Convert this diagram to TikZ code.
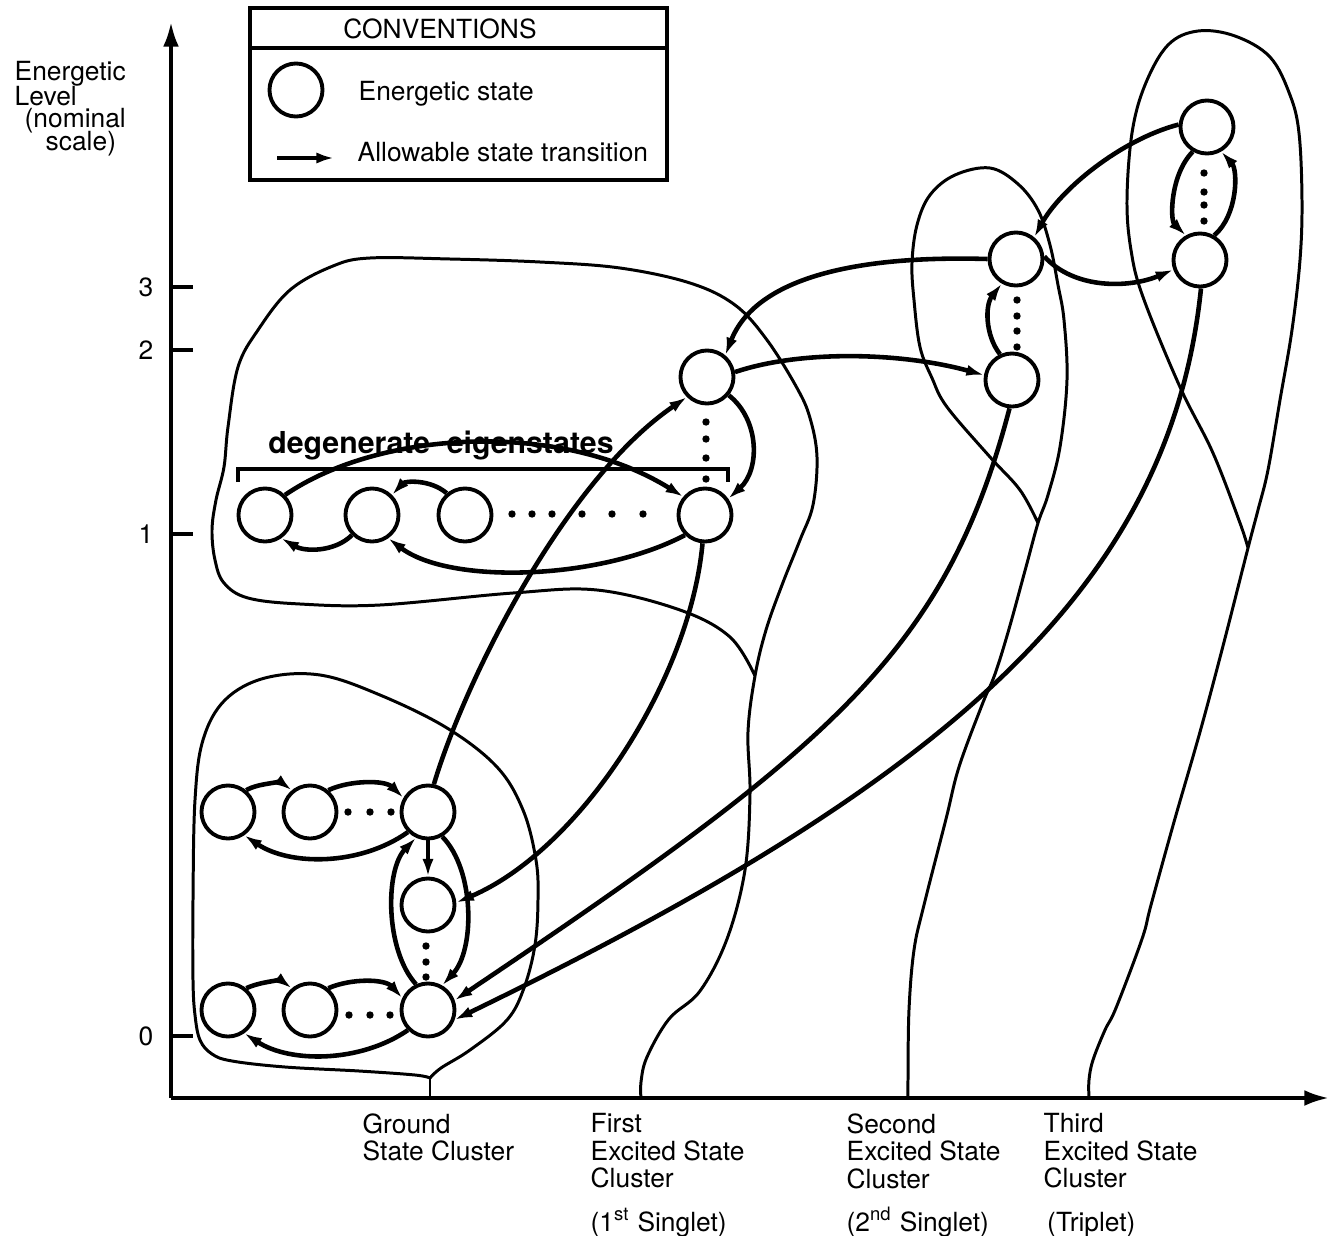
\documentclass[tikz,border=0pt]{standalone}
\usepackage{fontspec}
\setmainfont{TeX Gyre Heros}
\usetikzlibrary{arrows.meta}
\begin{document}
\begin{tikzpicture}[x=0.01cm,y=-0.01cm,
  state/.style={circle,draw,line width=1.1pt,minimum size=0.53cm,inner sep=0pt},
  trans/.style={line width=1.3pt,-{Latex[length=5pt,width=3.2pt]}},
  outline/.style={line width=0.85pt},
  axis/.style={line width=1.1pt,-{Latex[length=7pt,width=4.5pt]}},
  lbl/.style={font=\fontsize{7.5}{7.8}\selectfont,inner sep=0pt},
]
\useasboundingbox (0,0) rectangle (1329,1236);

% ---------- axes ----------
\coordinate (O) at (171,1098);
\coordinate (Ytop) at (171,22);
\coordinate (Xend) at (1329,1098);
\draw[axis] (O) -- (Ytop);
\draw[axis] (O) -- (Xend);
\foreach \yy/\tt in {287/3,350/2,534/1,1036/0}{
  \draw[line width=1.1pt] (171,\yy) -- (193,\yy);
  \node[lbl] (tick\tt) at (146,\yy) {\tt};
}
\node[lbl,anchor=base west] (ylab1) at (14,80) {Energetic};
\node[lbl,anchor=base west] (ylab2) at (14,105) {Level};
\node[lbl,anchor=base west] (ylab3) at (24,127) {(nominal};
\node[lbl,anchor=base west] (ylab4) at (45,150) {scale)};

% ---------- conventions box ----------
\draw[line width=1.1pt] (250,8) rectangle (667,180);
\draw[line width=1.1pt] (250,48) -- (667,48);
\node[lbl] (convtitle) at (440,29) {CONVENTIONS};
\node[state] (legcirc) at (296,90) {};
\node[lbl,anchor=base west] (legstate) at (358,100) {Energetic state};
\coordinate (legA) at (277,158);
\coordinate (legB) at (334,158);
\draw[trans] (legA) -- (legB);
\node[lbl,anchor=base west] (legtrans) at (357,161) {Allowable state transition};

% ---------- cluster outlines ----------
% ground state cluster
\draw[outline] (430,1098) -- (430,1078);
\draw[outline] plot[smooth,tension=0.6] coordinates {
  (430,1078) (441,1068) (470,1050) (507,1020) (524,988) (535,945) (538,900)
  (536,860) (523,810) (497,767) (447,728) (380,695) (320,675) (265,678)
  (225,700) (203,740) (195,800) (193,900) (193,980) (195,1015) (200,1040)
  (212,1054) (232,1061) (285,1067) (359,1071) (415,1075) (430,1078)};
% first excited state cluster
\draw[outline] plot[smooth,tension=0.6] coordinates {
  (641,1098) (641,1082) (647,1057) (669,1019) (700,991) (727,939) (745,870)
  (750,794) (748,732) (755,676) (766,630) (782,585) (800,540) (813,505)
  (817,457) (810,418) (797,388) (767,340) (735,305) (690,283) (620,268)
  (540,262) (450,259) (370,258) (333,266) (290,290) (258,330) (238,367)
  (228,427) (224,467) (216,500) (212,530) (215,560) (224,583) (248,598)
  (300,604) (380,605) (513,593) (597,590) (680,610) (730,637) (755,676)};
% second excited state cluster
\draw[outline] plot[smooth,tension=0.6] coordinates {
  (908,1098) (908,1080) (909,1010) (914,950) (924,905) (946,819) (959,767)
  (982,705) (995,674) (1009,629) (1026,567) (1038,523) (1048,495) (1060,447)
  (1067,380) (1064,320) (1058,285) (1050,245) (1038,210) (1018,184) (990,168)
  (955,175) (930,195) (917,225) (912,263) (914,300) (920,347) (932,378)
  (947,407) (990,457) (1020,490) (1038,523)};
% third excited state cluster
\draw[outline] plot[smooth,tension=0.6] coordinates {
  (1089,1098) (1089,1080) (1093,1060) (1105,1030) (1116,1008) (1142,939)
  (1151,905) (1174,822) (1200,732) (1223,646) (1248,548) (1258,510)
  (1268,470) (1280,400) (1292,330) (1300,260) (1302,200) (1299,133)
  (1290,95) (1270,57) (1235,36) (1198,31) (1168,45) (1145,85) (1132,133)
  (1127,200) (1131,250) (1143,297) (1180,387) (1213,453) (1240,523) (1248,548)};

% ---------- states ----------
\node[state] (G1) at (228,812) {};
\node[state] (G2) at (310,812) {};
\node[state] (G3) at (428,812) {};
\node[state] (G4) at (428,905) {};
\node[state] (G5) at (228,1010) {};
\node[state] (G6) at (310,1010) {};
\node[state] (G7) at (428,1010) {};

\node[state] (D1) at (265,515) {};
\node[state] (D2) at (372,515) {};
\node[state] (D3) at (465,515) {};
\node[state] (D4) at (705,515) {};
\node[state] (E1) at (707,377) {};

\node[state] (S1) at (1016,259) {};
\node[state] (S2) at (1012,380) {};
\node[state] (T1) at (1207,127) {};
\node[state] (T2) at (1200,260) {};

% ---------- omitted states (dots) ----------
\foreach \p in {(348,812),(370,812),(391,812),
                (349,1015),(370,1015),(390,1015),
                (426,946),(426,962),(426,977),
                (512,514),(532,514),(552,514),(582,514),(612,514),(643,514),
                (706,422),(706,439),(706,458),(706,479),
                (1017,300),(1017,316),(1017,331),(1017,347),
                (1204,173),(1204,192),(1204,205),(1204,221)}
  \fill \p circle[radius=0.037cm];

% ---------- degenerate eigenstates bracket ----------
\draw[line width=1.1pt] (238,482) -- (238,469) -- (728,469) -- (728,482);
\node[font=\bfseries\fontsize{8.6}{9}\selectfont,inner sep=0pt,anchor=base]
  (degen) at (441,453) {degenerate\ \ eigenstates};

% ---------- transitions: ground state cluster ----------
\draw[trans] (G1.50) .. controls (258,783) and (282,783) .. (G2.130);
\draw[trans] (G2.50) .. controls (350,780) and (385,780) .. (G3.150);
\draw[trans] (G3.225) .. controls (360,866) and (290,866) .. (G1.305);
\draw[trans] (G3.south) -- (G4.north);
\draw[trans] (G7.115) .. controls (385,950) and (385,870) .. (G3.245);
\draw[trans] (G3.300) .. controls (475,870) and (475,950) .. (G7.60);
\draw[trans] (G5.50) .. controls (262,981) and (282,981) .. (G6.130);
\draw[trans] (G6.50) .. controls (352,978) and (385,979) .. (G7.155);
\draw[trans] (G7.225) .. controls (360,1063) and (290,1063) .. (G5.305);

% ---------- transitions: first excited state cluster ----------
\draw[trans] (D1.45) .. controls (380,430) and (560,420) .. (D4.140);
\draw[trans] (D3.130) .. controls (430,479) and (405,481) .. (D2.45);
\draw[trans] (D2.225) .. controls (335,552) and (305,552) .. (D1.305);
\draw[trans] (D4.225) .. controls (600,580) and (450,585) .. (D2.305);
\draw[trans] (E1.320) .. controls (760,420) and (760,470) .. (D4.35);

% ---------- transitions between clusters ----------
\draw[trans] (G3.78) .. controls (465,680) and (565,480) .. (E1.225);
\draw[trans] (D4.265) .. controls (690,680) and (580,850) .. (G4.5);
\draw[trans] (E1.10) .. controls (800,350) and (900,352) .. (S2.170);
\draw[trans] (S1.180) .. controls (850,255) and (755,280) .. (E1.50);
\draw[trans] (S2.115) .. controls (985,335) and (985,305) .. (S1.240);
\draw[trans] (S1.5) .. controls (1075,290) and (1130,288) .. (T2.200);
\draw[trans] (T1.175) .. controls (1120,140) and (1060,190) .. (S1.50);
\draw[trans] (T1.240) .. controls (1170,175) and (1170,220) .. (T2.120);
\draw[trans] (T2.60) .. controls (1238,215) and (1238,170) .. (T1.300);
\draw[trans] (S2.265) .. controls (946,651) and (832,747) .. (G7.20);
\draw[trans] (T2.272) .. controls (1170,589) and (945,782) .. (G7.340);

% ---------- cluster names ----------
\node[lbl,align=left,anchor=north west] (lground) at (362,1113)
  {Ground\\State Cluster};
\node[lbl,align=left,anchor=north west] (lfirst) at (590,1113)
  {First\\Excited State\\Cluster\\[4.5pt](1\textsuperscript{st} Singlet)};
\node[lbl,align=left,anchor=north west] (lsecond) at (846,1113)
  {Second\\Excited State\\Cluster\\[4.5pt](2\textsuperscript{nd} Singlet)};
\node[lbl,align=left,anchor=north west] (lthird) at (1043,1113)
  {Third\\Excited State\\Cluster\\[4.5pt]\hspace{1pt}(Triplet)};
\end{tikzpicture}
\end{document}
